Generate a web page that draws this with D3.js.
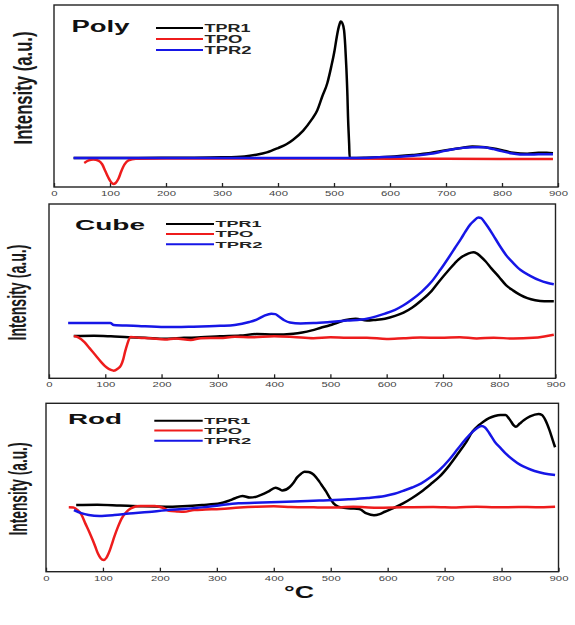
<!DOCTYPE html>
<html>
<head>
<meta charset="utf-8">
<script src="https://cdn.jsdelivr.net/npm/d3@7"></script>
<style>
    body { margin: 0; background: #fff; }
</style>
</head>
<body>
<div id="space"></div>
<script>

/************************************************
				Data (x = °C, y = % of panel height)
*************************************************/
var x_ticks = [0, 100, 200, 300, 400, 500, 600, 700, 800, 900];
var series_names = ["TPR1", "TPO", "TPR2"];
var panel_names = ["Poly", "Cube", "Rod"];

var poly_tpr1 = [[35,16],[150,16],[250,16.1],[300,16.3],[340,16.8],[361,17.7],[380,19],[400,21.4],[415,23.5],[427,26],[445,31],[460,37],[470,42],[479,49.7],[488,57],[495,66],[501,75],[505,82.6],[509,88.5],[512,90.9],[515,90],[518,86],[520,78],[522,66],[524,50],[525,38.8],[527,24],[528,16],[540,16],[557,16.1],[600,16.6],[640,17.6],[669,18.5],[700,20.2],[730,21.6],[747,22.2],[770,21.8],[800,20.2],[820,18.8],[845,18.3],[865,18.8],[880,18.8],[891,18.5]];
var poly_tpo = [[54,13.2],[62,14.6],[70,15.1],[80,14.4],[86,12.5],[92,8.5],[97,5.2],[102,2.6],[106.5,1.6],[110,2.2],[115,4.5],[120,8.5],[126,12.4],[133,14.6],[146,15.5],[200,15.6],[300,15.6],[500,15.6],[700,15.5],[891,15.4]];
var poly_tpr2 = [[35,16],[200,15.9],[400,16],[550,16],[580,16.3],[623,16.8],[650,17.5],[669,18.1],[690,19.3],[708,20.5],[730,21.5],[747,21.9],[767,21.8],[785,20.8],[799,19.7],[815,18.6],[832,17.9],[850,17.8],[865,18],[891,18]];

var cube_tpr1 = [[44,24.2],[80,24.4],[110,24.1],[141,23.6],[170,23.3],[206,22.7],[240,23.2],[270,23.5],[304,24.1],[340,24.5],[369,25.4],[400,25.1],[434,25.6],[450,26.3],[467,27.5],[483,29],[499,30.4],[512,31.9],[525,33.3],[545,34.2],[565,33.1],[580,33.5],[597,34.2],[615,35.8],[630,37.7],[645,40.5],[662,44.8],[680,50.2],[695,56.3],[710,62],[721,66],[732,69.3],[740,70.8],[750,72.1],[754,72.3],[760,71.7],[766,70.2],[776,67],[786,63.1],[800,58],[812,53.5],[825,50.3],[838,47.7],[850,46],[864,44.8],[880,44.2],[897,44.2]];
var cube_tpo = [[44,24.2],[52,23.5],[63,20.8],[72,17.3],[83,13.1],[92,9.6],[102,6.3],[110,4.8],[115,4.4],[122,5.5],[128,7.5],[132,11],[135,15],[139,19.5],[145,23.7],[160,23.3],[180,23],[206,22.2],[225,22.9],[252,22],[270,23],[304,23.1],[330,23.8],[360,23.5],[400,24.1],[434,23.7],[470,23],[500,23.5],[530,23.2],[565,23.3],[600,22.6],[630,23],[660,23.4],[695,23.2],[730,23.6],[760,22.9],[790,23.3],[825,22.8],[860,23.2],[880,24],[897,25]];
var cube_tpr2 = [[34,31.7],[70,31.7],[109,31.7],[115,30.6],[150,30.2],[206,29.4],[250,29.6],[304,30.1],[330,30.6],[356,32.3],[370,33.8],[382,35.8],[395,37.1],[402,36.8],[408,35.6],[418,33.3],[428,32],[447,31.5],[470,31.7],[499,32.3],[530,33.1],[565,34.2],[580,35.4],[597,37.1],[615,39.3],[630,41.9],[645,45.2],[662,49.6],[680,55.5],[695,62.1],[710,69.2],[721,74.6],[732,80],[740,84.2],[748,88],[754,90],[763,92.3],[768,91.9],[773,90],[780,86.8],[789,82.3],[800,76.5],[812,70.8],[825,66.1],[838,62.1],[855,58.8],[871,56.3],[885,54.8],[897,54]];

var rod_tpr1 = [[53,39.6],[90,39.8],[130,39.3],[170,38.8],[210,38.6],[240,38.9],[274,39.6],[306,40.6],[320,42],[332,43.6],[345,45],[358,44],[370,44.6],[382,46.2],[390,47.5],[403,49.9],[410,49],[415,48.2],[428,50.3],[435,53],[441,56],[448,58.2],[454,59.4],[461,59.2],[467,58.4],[474,56.2],[480,53.5],[486,50.5],[492,47.5],[498,44],[505,40.6],[512,38.8],[518,38.2],[535,37.6],[550,37.2],[563,34.6],[576,33.5],[586,34.2],[595,35.6],[610,37.8],[627,40.6],[643,43.8],[659,47.5],[675,51.8],[691,56.4],[708,63],[724,70.3],[737,76.5],[749,83.2],[760,87],[768,89.1],[778,91.2],[788,92.5],[798,93.1],[807,93.1],[813,91],[817,89],[821,87],[825,86.1],[832,88],[839,89.9],[850,92.2],[865,93.7],[871,93],[877,90],[884,84.2],[890,78],[894,73.9]];
var rod_tpo = [[40,38.2],[48,38.1],[56,36.4],[62,34],[69,28.7],[76,23.6],[82,18.8],[87,14.5],[91,10.9],[96,8],[101,6.9],[106,8.2],[110,10.9],[115,15.6],[120,20.8],[126,26.3],[133,31.7],[140,35],[149,37.6],[165,39],[191,39],[205,38],[216,36.2],[230,35.8],[242,35.6],[260,36.6],[280,36.9],[306,37.2],[340,38.1],[370,38.6],[400,38.8],[430,38.4],[470,38.2],[499,38.1],[540,38.5],[580,38],[627,38.2],[680,38.4],[720,38.1],[756,38.6],[790,38.2],[830,38.4],[860,38.3],[894,38.6]];
var rod_tpr2 = [[49,36.6],[62,34.8],[75,33.7],[94,33.1],[120,33.6],[146,34.5],[180,35.4],[210,36.5],[240,37.2],[274,38.2],[306,39.5],[338,40.6],[380,41.1],[435,41.7],[480,42.3],[531,43],[565,43.8],[595,45],[612,46.3],[627,48],[643,50],[659,52.5],[675,56.1],[691,60.4],[708,66.5],[724,73.3],[737,78.7],[749,83],[758,85.5],[765,86.5],[771,85.6],[778,82.5],[788,77.2],[798,73.5],[807,70.3],[820,66.5],[833,63.4],[845,61.5],[858,59.8],[875,58.3],[894,57.4]];


var svg;
var colors = ["#000000", "#ee1c1c", "#1616e6"];
var font = "'Liberation Sans', Arial, sans-serif";

init();

function init() {
    initSvg();

    //Panel frames and layout (pixels)
    var panels = [
        { left: 54, right: 558, top: 5, bottom: 187, data: [poly_tpr1, poly_tpo, poly_tpr2],
          title: { x: 71.5, y: 32, size: 16, len: 58 },
          legend: { x1: 156, x2: 203, ys: [28, 39, 50], size: 10 },
          ylabel: { x: 31.5, y: 88, size: 26, len: 113 } },
        { left: 49, right: 555.5, top: 204, bottom: 378.3, data: [cube_tpr1, cube_tpo, cube_tpr2],
          title: { x: 75, y: 230, size: 14.5, len: 70 },
          legend: { x1: 166, x2: 214, ys: [224, 234, 244.3], size: 9.5 },
          ylabel: { x: 25.5, y: 292.5, size: 25, len: 96 } },
        { left: 46, right: 558.5, top: 403.3, bottom: 571.7, data: [rod_tpr1, rod_tpo, rod_tpr2],
          title: { x: 68, y: 423.5, size: 14.5, len: 54 },
          legend: { x1: 154.3, x2: 202.7, ys: [420.7, 430.5, 440.7], size: 9 },
          ylabel: { x: 26.5, y: 489, size: 25, len: 93 } }
    ];

    for (var i = 0; i < panels.length; i++) {
        drawPanel(panels[i], panel_names[i]);
    }

    //Bottom unit label
    svg.append("text")
        .attr("x", 284)
        .attr("y", 598)
        .attr("font-family", font)
        .attr("font-weight", "bold")
        .attr("font-size", 17)
        .attr("textLength", 30)
        .attr("lengthAdjust", "spacingAndGlyphs")
        .attr("fill", "#111")
        .text("°C");
}

function initSvg() {
    svg = d3.select("#space").append("svg")
        .attr("xmlns", "http://www.w3.org/2000/svg")
        .attr("width", 575)
        .attr("height", 625);
}

/************************************************
				One panel
*************************************************/
function drawPanel(p, name) {
    var g = svg.append("g");

    var x = d3.scaleLinear().domain([0, 900]).range([p.left, p.right]);
    var y = d3.scaleLinear().domain([0, 100]).range([p.bottom, p.top]);

    //Frame
    g.append("rect")
        .attr("x", p.left)
        .attr("y", p.top)
        .attr("width", p.right - p.left)
        .attr("height", p.bottom - p.top)
        .attr("fill", "none")
        .attr("stroke", "#222")
        .attr("stroke-width", 1.4);

    //Inward ticks, wide labels
    var axis = d3.axisBottom(x)
        .tickValues(x_ticks)
        .tickSizeInner(-4)
        .tickSizeOuter(0)
        .tickPadding(3.5);

    g.append("g")
        .attr("transform", "translate(0," + p.bottom + ")")
        .call(axis)
        .call(function (a) {
            a.select(".domain").remove();
            a.selectAll("line").attr("stroke", "#222").attr("stroke-width", 1.3);
            a.selectAll("text")
                .attr("font-family", font)
                .attr("font-size", 8)
                .attr("fill", "#444")
                .attr("textLength", function (d) { return String(d).length * 6.3; })
                .attr("lengthAdjust", "spacingAndGlyphs");
        });

    //Curves: TPR1, TPO, TPR2 (blue on top)
    var line = d3.line()
        .x(function (d) { return x(d[0]); })
        .y(function (d) { return y(d[1]); })
        .curve(d3.curveMonotoneX);

    for (var i = 0; i < p.data.length; i++) {
        g.append("path")
            .datum(p.data[i])
            .attr("d", line)
            .attr("fill", "none")
            .attr("stroke", colors[i])
            .attr("stroke-width", 2.5)
            .attr("stroke-linejoin", "round");
    }

    //Panel name
    g.append("text")
        .attr("x", p.title.x)
        .attr("y", p.title.y)
        .attr("font-family", font)
        .attr("font-weight", "bold")
        .attr("font-size", p.title.size)
        .attr("textLength", p.title.len)
        .attr("lengthAdjust", "spacingAndGlyphs")
        .attr("fill", "#111")
        .text(name);

    //Legend
    var text_len = [46, 38, 47];
    for (var j = 0; j < series_names.length; j++) {
        g.append("line")
            .attr("x1", p.legend.x1)
            .attr("x2", p.legend.x2)
            .attr("y1", p.legend.ys[j])
            .attr("y2", p.legend.ys[j])
            .attr("stroke", colors[j])
            .attr("stroke-width", 2);

        g.append("text")
            .attr("x", p.legend.x2 + 1.5)
            .attr("y", p.legend.ys[j] + p.legend.size * 0.36)
            .attr("font-family", font)
            .attr("font-weight", "bold")
            .attr("font-size", p.legend.size)
            .attr("textLength", text_len[j])
            .attr("lengthAdjust", "spacingAndGlyphs")
            .attr("fill", "#222")
            .text(series_names[j]);
    }

    //Rotated y label (condensed look)
    g.append("text")
        .attr("transform", "translate(" + p.ylabel.x + "," + p.ylabel.y + ") rotate(-90)")
        .attr("text-anchor", "middle")
        .attr("font-family", "'Liberation Sans Narrow', 'Liberation Sans', Arial, sans-serif")
        .attr("font-weight", "bold")
        .attr("font-size", p.ylabel.size)
        .attr("textLength", p.ylabel.len)
        .attr("lengthAdjust", "spacingAndGlyphs")
        .attr("fill", "#1a1a1a")
        .text("Intensity (a.u.)");
}
</script>
</body>
</html>
